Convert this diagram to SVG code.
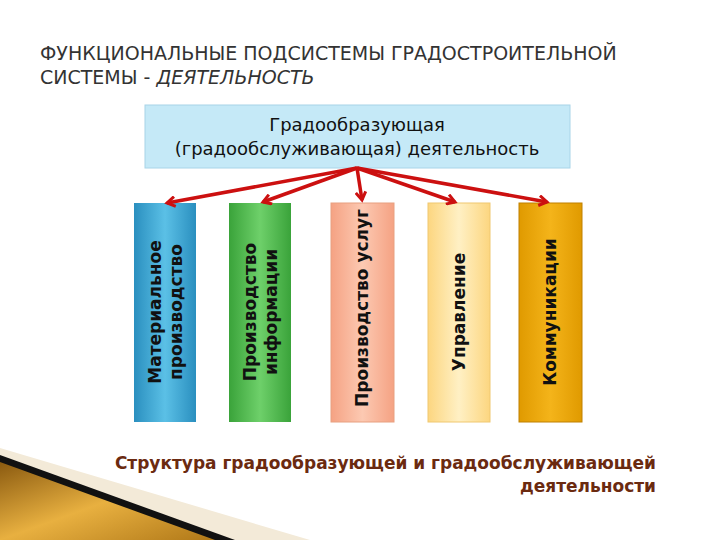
<svg xmlns="http://www.w3.org/2000/svg" width="720" height="540" viewBox="0 0 720 540">
<defs>
<style>
.t{font-family:"DejaVu Sans",sans-serif;}
.lbl{font-family:"DejaVu Sans",sans-serif;font-size:17px;font-weight:bold;fill:#111;text-anchor:middle}
</style>
<linearGradient id="g1" x1="0" x2="1"><stop offset="0" stop-color="#2a8fbf"/><stop offset="0.5" stop-color="#5bc0e6"/><stop offset="1" stop-color="#2a8fbf"/></linearGradient>
<linearGradient id="g2" x1="0" x2="1"><stop offset="0" stop-color="#3aa33a"/><stop offset="0.5" stop-color="#6ed06a"/><stop offset="1" stop-color="#3aa33a"/></linearGradient>
<linearGradient id="g3" x1="0" x2="1"><stop offset="0" stop-color="#f5a283"/><stop offset="0.5" stop-color="#fcc9b2"/><stop offset="1" stop-color="#f5a283"/></linearGradient>
<linearGradient id="g4" x1="0" x2="1"><stop offset="0" stop-color="#fcd680"/><stop offset="0.5" stop-color="#fff0c4"/><stop offset="1" stop-color="#fcd680"/></linearGradient>
<linearGradient id="g5" x1="0" x2="1"><stop offset="0" stop-color="#e09a00"/><stop offset="0.5" stop-color="#f4b41a"/><stop offset="1" stop-color="#e09a00"/></linearGradient>
<linearGradient id="gold" x1="0" y1="0" x2="1" y2="1"><stop offset="0" stop-color="#8a5a10"/><stop offset="0.5" stop-color="#e8b040"/><stop offset="1" stop-color="#b07818"/></linearGradient>
<marker id="ah" markerWidth="12" markerHeight="12" refX="9" refY="6" orient="auto" markerUnits="userSpaceOnUse"><path d="M1,1 L9,6 L1,11" fill="none" stroke="#cc1010" stroke-width="3"/></marker>
</defs>
<rect width="720" height="540" fill="#fff"/>
<polygon points="0,448 310,540 0,540" fill="#f3ead8"/>
<polygon points="0,455 235,540 0,540" fill="#111"/>
<polygon points="0,462 215,540 0,540" fill="url(#gold)"/>
<text class="t" x="40" y="60" font-size="19" fill="#333">ФУНКЦИОНАЛЬНЫЕ ПОДСИСТЕМЫ ГРАДОСТРОИТЕЛЬНОЙ</text>
<text class="t" x="40" y="84" font-size="19" fill="#333">СИСТЕМЫ - <tspan font-style="italic">ДЕЯТЕЛЬНОСТЬ</tspan></text>
<g id="top"><rect x="145" y="105" width="425" height="63" fill="#c5e9f7" stroke="#a8d4e8"/>
<text class="t" x="357" y="131" font-size="18" fill="#111" text-anchor="middle">Градообразующая</text>
<text class="t" x="357" y="155" font-size="18" fill="#111" text-anchor="middle">(градообслуживающая) деятельность</text></g>
<g id="c1"><rect x="134" y="203" width="62" height="219" fill="url(#g1)"/><text class="lbl" transform="translate(165,312) rotate(-90)"><tspan x="0" y="-4">Материальное</tspan><tspan x="0" y="17">производство</tspan></text></g>
<g id="c2"><rect x="229" y="203" width="62" height="219" fill="url(#g2)"/><text class="lbl" transform="translate(260,312) rotate(-90)"><tspan x="0" y="-4">Производство</tspan><tspan x="0" y="17">информации</tspan></text></g>
<g id="c3"><rect x="331" y="203" width="63" height="219" fill="url(#g3)" stroke="#e8a080"/><text class="lbl" transform="translate(362,308) rotate(-90)" y="6">Производство услуг</text></g>
<g id="c4"><rect x="428" y="203" width="62" height="219" fill="url(#g4)" stroke="#f0c870"/><text class="lbl" transform="translate(459,312) rotate(-90)" y="6">Управление</text></g>
<g id="c5"><rect x="519" y="203" width="63" height="219" fill="url(#g5)" stroke="#c08000"/><text class="lbl" transform="translate(550,312) rotate(-90)" y="6">Коммуникации</text></g>
<g id="connectors" stroke="#cc1010" stroke-width="3.5" fill="none" marker-end="url(#ah)">
<line x1="357" y1="168" x2="167" y2="203"/>
<line x1="357" y1="168" x2="263" y2="202"/>
<line x1="357" y1="168" x2="362" y2="200"/>
<line x1="357" y1="168" x2="455" y2="202"/>
<line x1="357" y1="168" x2="547" y2="202"/>
</g>
<text class="t" x="656" y="469" font-size="17" font-weight="bold" fill="#6b2a10" text-anchor="end">Структура градообразующей и градообслуживающей</text>
<text class="t" x="656" y="492" font-size="17" font-weight="bold" fill="#6b2a10" text-anchor="end">деятельности</text>
</svg>
